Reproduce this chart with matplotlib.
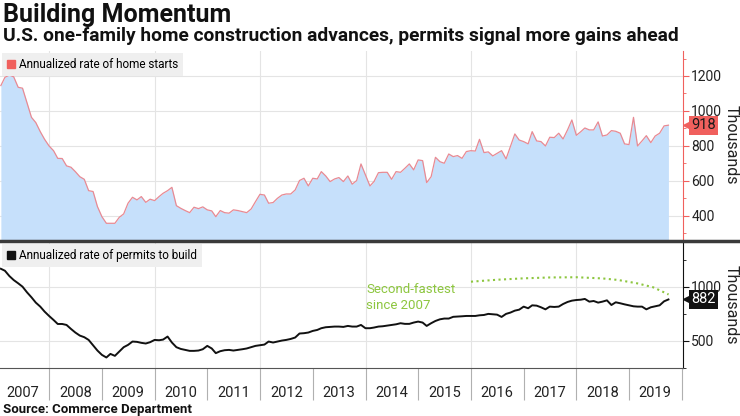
import numpy as np
import pandas as pd
import matplotlib
matplotlib.use('Agg')
import matplotlib.pyplot as plt
import matplotlib.dates as mdates
from matplotlib.lines import Line2D
from matplotlib.patches import Patch
from matplotlib.ticker import MultipleLocator, FixedLocator

plt.rcParams['font.family'] = ['Roboto', 'DejaVu Sans']

# single-family housing starts and permits, SAAR thousands, Jan 2007 - Sep 2019
starts = [1145, 1192, 1205, 1195, 1135, 1130, 1047, 963, 933, 881, 837, 799,
          772, 728, 727, 685, 677, 652, 623, 608, 543, 538, 452, 394,
          356, 356, 356, 390, 410, 471, 505, 490, 509, 476, 494, 486,
          509, 528, 543, 562, 457, 442, 429, 417, 448, 440, 450, 433,
          427, 394, 429, 417, 414, 433, 429, 423, 417, 438, 480, 522,
          518, 471, 475, 499, 518, 524, 524, 547, 601, 614, 570, 614,
          610, 652, 627, 595, 610, 618, 595, 627, 580, 601, 696, 633,
          570, 595, 646, 648, 648, 608, 652, 648, 671, 696, 662, 719,
          715, 589, 623, 734, 709, 700, 753, 738, 744, 728, 767, 772,
          770, 837, 761, 765, 742, 757, 772, 725, 795, 868, 833, 824,
          811, 881, 828, 824, 799, 849, 847, 872, 839, 891, 948, 860,
          881, 902, 891, 891, 937, 856, 862, 887, 883, 872, 811, 807,
          963, 799, 828, 858, 818, 856, 872, 914, 918]
permits = [1165, 1147, 1098, 1061, 1031, 1000, 948, 902, 853, 816, 770, 730,
           693, 656, 656, 647, 610, 577, 549, 534, 509, 460, 411, 371,
           347, 380, 362, 402, 442, 463, 494, 491, 482, 476, 488, 509,
           506, 512, 540, 485, 442, 426, 417, 408, 408, 411, 423, 454,
           430, 387, 405, 414, 417, 411, 417, 423, 430, 442, 454, 460,
           466, 494, 485, 494, 503, 509, 518, 531, 568, 571, 577, 592,
           601, 617, 626, 629, 632, 632, 629, 638, 632, 632, 647, 617,
           617, 623, 632, 635, 641, 647, 653, 663, 657, 657, 669, 678,
           669, 638, 663, 684, 699, 706, 706, 722, 724, 727, 730, 730,
           730, 736, 739, 749, 745, 742, 721, 749, 761, 779, 788, 816,
           801, 828, 825, 810, 791, 816, 813, 816, 840, 859, 871, 877,
           880, 887, 862, 868, 853, 862, 874, 831, 856, 847, 837, 828,
           819, 816, 816, 791, 810, 819, 828, 865, 882]
dates = pd.date_range('2007-01-31', periods=len(starts), freq='ME')

# dotted arc over the permits line
arc_dates = pd.to_datetime(['2016-01-01', '2016-07-01', '2017-01-01', '2017-07-01',
                            '2018-01-01', '2018-07-01', '2018-10-15', '2019-02-25',
                            '2019-06-15', '2019-08-08', '2019-10-01'])
arc_vals = [1046, 1064, 1077, 1085, 1087, 1076, 1062, 1031, 995, 962, 928]

years = list(range(2007, 2020))

W, H = 740, 416
def box(l, t, r, b):
    return [l / W, 1 - b / H, (r - l) / W, (b - t) / H]

fig = plt.figure(figsize=(7.4, 4.16), dpi=100)
ax1 = fig.add_axes(box(0, 51, 683, 239))
ax2 = fig.add_axes(box(0, 242, 683, 368), sharex=ax1)

red = '#f0605d'
green = '#8dc63f'
grid_c = '#e4e4e4'

# top panel: starts
ax1.fill_between(dates, starts, 0, color='#c6e0fb', lw=0)
ax1.plot(dates, starts, color='#e88a93', lw=0.9)
ax1.set_ylim(266, 1343)
for s in ['top', 'left', 'bottom']:
    ax1.spines[s].set_visible(False)
ax1.spines['right'].set_color(red)
ax1.yaxis.tick_right()
ax1.yaxis.set_major_locator(FixedLocator([400, 600, 800, 1000, 1200]))
ax1.yaxis.set_minor_locator(MultipleLocator(100))
ax1.tick_params(axis='y', which='major', colors=red, labelcolor='#222222',
                labelsize=10, length=4, pad=2)
ax1.tick_params(axis='y', which='minor', colors=red, length=2)
ax1.tick_params(axis='x', which='both', length=0, labelbottom=False)
ax1.grid(axis='y', color=grid_c, lw=0.8)
ax1.set_axisbelow(True)

# bottom panel: permits
ax2.plot(dates, permits, color='#111111', lw=1.4)
ax2.plot(arc_dates, arc_vals, ls=':', color=green, lw=1.5)
ax2.set_ylim(250, 1412)
for s in ['top', 'left']:
    ax2.spines[s].set_visible(False)
ax2.spines['bottom'].set_color('#555555')
ax2.spines['right'].set_color('#111111')
ax2.yaxis.tick_right()
ax2.yaxis.set_major_locator(FixedLocator([500, 1000]))
ax2.yaxis.set_minor_locator(FixedLocator([250, 750, 1250]))
ax2.tick_params(axis='y', which='major', colors='#111111', labelcolor='#222222',
                labelsize=10, length=4, pad=2)
ax2.tick_params(axis='y', which='minor', colors='#111111', length=2)
ax2.grid(axis='y', color=grid_c, lw=0.8)
ax2.set_axisbelow(True)

ax2.text(pd.Timestamp('2014-01-05'), 900, 'Second-fastest\nsince 2007', color=green,
         fontsize=9.5, va='center', ha='left', linespacing=1.25)

# x axis: year separators below, labels mid-year
ax2.set_xlim(pd.Timestamp('2007-01-25'), pd.Timestamp('2020-01-09'))
ax2.xaxis.set_major_locator(mdates.YearLocator(1))
ax2.xaxis.set_minor_locator(mdates.MonthLocator(bymonth=7, bymonthday=1))
ax2.xaxis.set_major_formatter(plt.NullFormatter())
ax2.xaxis.set_minor_formatter(mdates.DateFormatter('%Y'))
ax2.tick_params(axis='x', which='major', length=23, color='#b0b0b0', width=0.8)
ax2.tick_params(axis='x', which='minor', length=0, labelsize=10.5, labelcolor='#222222', pad=13)

for y in years:
    if y % 2 == 0:
        for ax in (ax1, ax2):
            ax.axvline(pd.Timestamp(f'{y}-01-01'), color=grid_c, lw=0.8, zorder=0)

# legends
leg1 = ax1.legend(handles=[Patch(color=red)], labels=['Annualized rate of home starts'],
                  loc='upper left', bbox_to_anchor=(0, 1), borderaxespad=0.15,
                  frameon=True, fancybox=False, facecolor='#efefef', edgecolor='none',
                  framealpha=1, fontsize=8.5, handlelength=0.7, handleheight=0.7,
                  handletextpad=0.3, borderpad=0.45)
leg2 = ax2.legend(handles=[Patch(color='#111111')], labels=['Annualized rate of permits to build'],
                  loc='upper left', bbox_to_anchor=(0, 1), borderaxespad=0.15,
                  frameon=True, fancybox=False, facecolor='#efefef', edgecolor='none',
                  framealpha=1, fontsize=8.5, handlelength=0.7, handleheight=0.7,
                  handletextpad=0.3, borderpad=0.45)

# last-value badges
for ax, val, fc, tc in [(ax1, starts[-1], red, '#1a1a1a'), (ax2, permits[-1], '#111111', 'white')]:
    tr = ax.get_yaxis_transform()
    ax.plot([1.006], [val], marker='<', ms=6, color=fc, transform=tr, clip_on=False, zorder=5)
    ax.text(1.012, val, str(val), transform=tr, va='center', ha='left', fontsize=10.5,
            color=tc, zorder=6,
            bbox=dict(boxstyle='square,pad=0.18', fc=fc, ec='none'))

fig.text(731 / W, 1 - 145 / H, 'Thousands', rotation=270, va='center', ha='center',
         fontsize=11.5, color='#222222')
fig.text(731 / W, 1 - 305 / H, 'Thousands', rotation=270, va='center', ha='center',
         fontsize=11.5, color='#222222')

# panel divider
fig.add_artist(Line2D([0, 1], [1 - 240.5 / H] * 2, color='#3a3a3a', lw=2.5))

fig.text(3 / W, 1 - 15 / H, 'Building Momentum', fontsize=18, fontweight='bold',
         va='center', ha='left', color='#111111')
fig.text(3 / W, 1 - 36 / H,
         'U.S. one-family home construction advances, permits signal more gains ahead',
         fontsize=13.8, fontweight='bold', va='center', ha='left', color='#111111')
fig.text(3 / W, 1 - 409 / H, 'Source: Commerce Department', fontsize=9.5,
         fontweight='bold', va='center', ha='left', color='#111111')

fig.savefig('out.png', dpi=100)
